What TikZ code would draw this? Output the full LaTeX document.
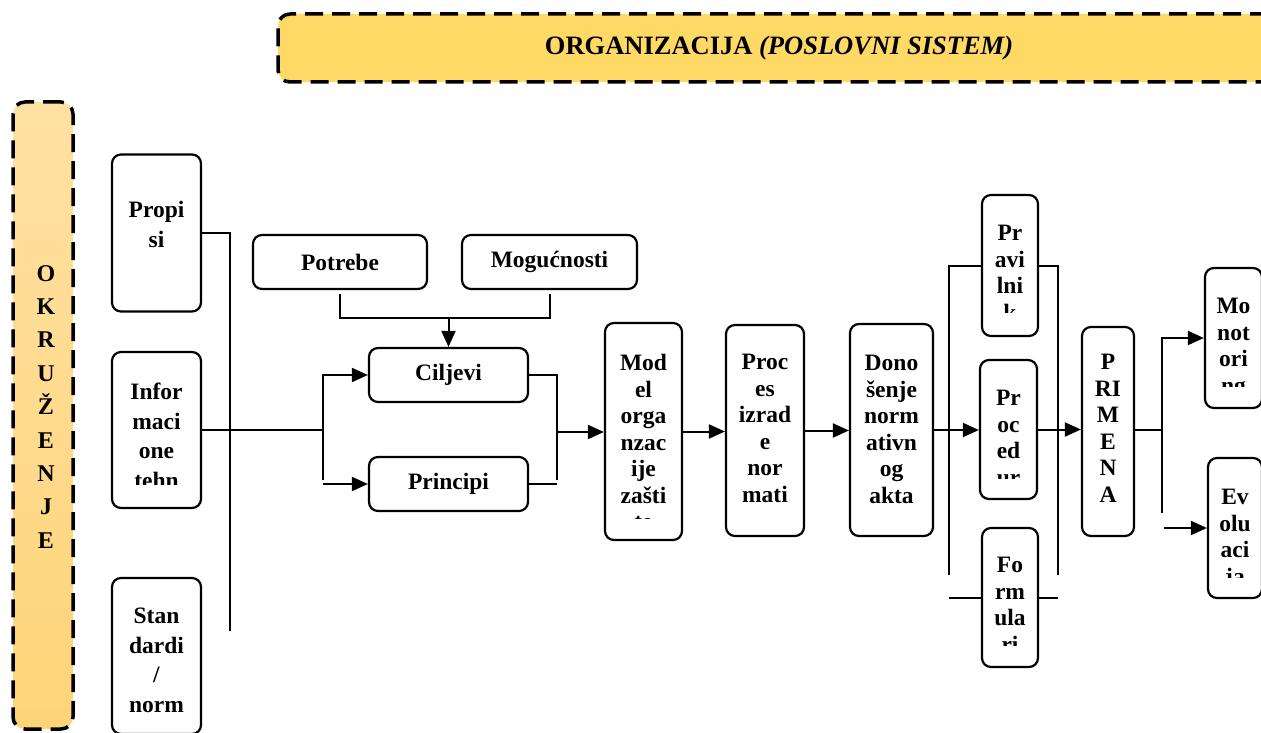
\documentclass[tikz,border=0pt]{standalone}
\usepackage{fontspec}
\setmainfont{Liberation Serif}
\usetikzlibrary{arrows.meta, positioning}
\definecolor{orggold}{HTML}{FFD966}
\definecolor{envlight}{HTML}{FFE1A3}
\definecolor{envdark}{HTML}{FFD478}
\tikzset{
	box/.style={
			draw=black,
			line width=2.2pt,
			rounded corners=9pt,
			fill=white,
			inner sep=0pt,
			font=\bfseries\fontsize{23.5}{26.5}\selectfont
		},
	txt/.style={
			font=\bfseries\fontsize{23.5}{26.5}\selectfont,
			align=center,
			inner sep=0pt,
			anchor=north
		},
	widetxt/.style={
			txt,
			font=\bfseries\fontsize{23.5}{29.5}\selectfont
		},
	banner/.style={
			draw=black,
			line width=3.5pt,
			dash pattern=on 18pt off 9pt,
			rounded corners=12pt,
			inner sep=0pt
		},
	conn/.style={line width=2pt},
	arr/.style={line width=2pt, -{Triangle[length=16pt,width=14pt]}}
}
\begin{document}
\begin{tikzpicture}[x=1pt, y=-1pt]
\useasboundingbox (0,0) rectangle (1261,733);
\clip (0,0) rectangle (1261,733);

    % banners
    \node[banner, fill=orggold, minimum width=1002pt, minimum height=68pt] (org) at (779,48) {};
    \node[font=\bfseries\fontsize{26.5}{30}\selectfont] at (org.center) {ORGANIZACIJA \textit{(POSLOVNI SISTEM)}};
    \node[banner, top color=envlight, bottom color=envdark, minimum width=60pt, minimum height=627pt] (okruzenje) at (43,415.5) {};
    \node[font=\bfseries\fontsize{24}{33.4}\selectfont, align=center, inner sep=0pt, anchor=north] at (46,265) {O\\K\\R\\U\\Ž\\E\\N\\J\\E};

    % left column
    \node[box, minimum width=89pt, minimum height=157pt] (propisi) at (156.5,233) {};
    \node[widetxt] at (propisi |- 0,201) {Propi\\si};
    \node[box, minimum width=89pt, minimum height=156pt] (infotech) at (156.5,430) {};
    \begin{scope}
        \clip (112,352) rectangle (201,484);
        \node[widetxt] at (infotech |- 0,383) {Infor\\maci\\one\\tehn};
    \end{scope}
    \node[box, minimum width=89pt, minimum height=156pt] (standardi) at (156.5,656) {};
    \node[widetxt] at (standardi |- 0,608) {Stan\\dardi\\/\\norm};

    % goals
    \node[box, minimum width=174pt, minimum height=54pt] (potrebe) at (340,262) {Potrebe};
    \node[box, minimum width=175pt, minimum height=54pt] (mogucnosti) at (549.5,262) {Mogućnosti};
    \node[box, minimum width=159pt, minimum height=54pt] (ciljevi) at (448.5,375) {Ciljevi};
    \node[box, minimum width=159pt, minimum height=54pt] (principi) at (448.5,484) {Principi};

    % chain
    \node[box, minimum width=77pt, minimum height=217pt] (model) at (643.5,431.5) {};
    \begin{scope}
        \clip (605,323) rectangle (682,518);
        \node[txt] at (model |- 0,354) {Mod\\el\\orga\\nzac\\ije\\zašti\\te};
    \end{scope}
    \node[box, minimum width=78pt, minimum height=211pt] (proces) at (765,430.5) {};
    \node[txt] at (proces |- 0,354) {Proc\\es\\izrad\\e\\nor\\mati};
    \node[box, minimum width=83pt, minimum height=212pt] (donosenje) at (891.5,430) {};
    \node[txt] at (donosenje |- 0,355) {Dono\\šenje\\norm\\ativn\\og\\akta};

    % acts
    \node[box, minimum width=56pt, minimum height=141pt] (pravilnik) at (1010,265.5) {};
    \begin{scope}
        \clip (982,195) rectangle (1038,312);
        \node[txt] at (pravilnik |- 0,225) {Pr\\avi\\lni\\k};
    \end{scope}
    \node[box, minimum width=57pt, minimum height=139pt] (procedure) at (1008.5,429.5) {};
    \begin{scope}
        \clip (980,360) rectangle (1037,478);
        \node[txt] at (procedure |- 0,390) {Pr\\oc\\ed\\ur};
    \end{scope}
    \node[box, minimum width=56pt, minimum height=139pt] (formulari) at (1010,597.5) {};
    \begin{scope}
        \clip (982,528) rectangle (1038,645);
        \node[txt] at (formulari |- 0,557) {Fo\\rm\\ula\\ri};
    \end{scope}

    \node[box, minimum width=52pt, minimum height=209pt] (primena) at (1108,431.5) {};
    \node[txt] at (primena |- 0,354) {P\\RI\\M\\E\\N\\A};
    \node[box, minimum width=57pt, minimum height=140pt] (monitoring) at (1233.5,338) {};
    \begin{scope}
        \clip (1205,268) rectangle (1262,386);
        \node[txt] at (monitoring |- 0,298) {Mo\\not\\ori\\ng};
    \end{scope}
    \node[box, minimum width=54pt, minimum height=140pt] (evolucija) at (1235,528) {};
    \begin{scope}
        \clip (1208,458) rectangle (1262,577);
        \node[txt] at (evolucija |- 0,489) {Ev\\olu\\aci\\ja};
    \end{scope}

    % junctions
    \coordinate (trunk) at (230,631);
    \coordinate (forkL) at (323,430);
    \coordinate (forkLb) at (323,480);
    \coordinate (merge) at (448.5,318);
    \coordinate (forkR) at (557,432);
    \coordinate (forkRb) at (557,480);
    \coordinate (barL) at (949,575);
    \coordinate (barR) at (1058,575);
    \coordinate (forkP) at (1162,430);
    \coordinate (forkPb) at (1162,513);

    % connectors
    \draw[conn] (propisi.east) -| (trunk);
    \draw[conn] (infotech.east) -- (forkL) -- (forkLb);
    \draw[arr] (forkL) |- (ciljevi.west);
    \draw[arr] (forkLb |- principi.west) -- (principi.west);
    \draw[conn] ([yshift=-4pt]potrebe.south) |- (merge) -| ([yshift=-4pt]mogucnosti.south);
    \draw[arr] (merge) -- (ciljevi.north);
    \draw[conn] (ciljevi.east) -| (forkRb);
    \draw[conn] (principi.east) -- (principi.east -| forkR);
    \draw[arr] (forkR) -- (forkR -| model.west);
    \draw[arr] (model.east) -- (model.east -| proces.west);
    \draw[arr] (proces.east) -- (proces.east -| donosenje.west);

    \draw[conn] (pravilnik.west) -| (barL);
    \draw[conn] (pravilnik.east) -| (barR);
    \draw[conn] (formulari.west) -- (formulari.west -| barL);
    \draw[conn] (formulari.east) -- (formulari.east -| barR);
    \draw[arr] (donosenje.east) -- (donosenje.east -| procedure.west);
    \draw[arr] (procedure.east) -- (procedure.east -| primena.west);

    \draw[conn] (primena.east |- forkP) -- (forkP) -- (forkPb);
    \draw[arr] (forkP) |- (monitoring.west);
    \draw[arr] ([xshift=2pt]forkPb |- evolucija.west) -- (evolucija.west);

\end{tikzpicture}
\end{document}
